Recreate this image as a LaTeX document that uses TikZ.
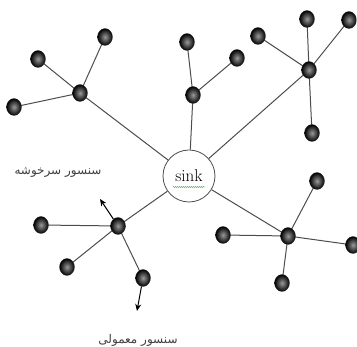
\documentclass[tikz,border=0pt]{standalone}
\usepackage{fontspec}
\newfontfamily\arabicfont[Script=Arabic]{DejaVu Sans}
\TeXXeTstate=1
\usetikzlibrary{shapes.geometric,arrows.meta,decorations.pathmorphing,backgrounds}
\begin{document}
\begin{tikzpicture}[x=1pt,y=-1pt,
  sensor/.style={ellipse,minimum width=15pt,minimum height=17pt,inner sep=0pt,
    shading=radial,inner color=gray!80,outer color=black,draw=black!80,line width=0.3pt},
  link/.style={draw=black!70,line width=1pt},
  arr/.style={draw=black,line width=1pt,-{Stealth[length=7pt,width=6pt]}},
  lab/.style={font=\arabicfont\fontsize{12}{14}\selectfont,text=black!75}]
\useasboundingbox (0,0) rectangle (357,347);
\node[circle,draw=black!70,line width=0.8pt,minimum size=52pt,inner sep=0pt,fill=white,
  font=\fontsize{17}{19}\selectfont] (sink) at (189,176) {sink};
\draw[green!60!black,line width=0.4pt,decorate,decoration={snake,amplitude=0.4pt,segment length=2pt}] (173,187) -- (205,187);
% top-left cluster
\node[sensor] (h1) at (80,93) {};
\node[sensor] (a1) at (105,37) {};
\node[sensor] (a2) at (38,59) {};
\node[sensor] (a3) at (14,107) {};
% top-middle cluster
\node[sensor] (h2) at (193,95) {};
\node[sensor] (b1) at (187,42) {};
\node[sensor] (b2) at (237,58) {};
% top-right cluster
\node[sensor] (h3) at (309,70) {};
\node[sensor] (c1) at (258,36) {};
\node[sensor] (c2) at (307,19) {};
\node[sensor] (c3) at (349,20) {};
\node[sensor] (c4) at (312,133) {};
% bottom-right cluster
\node[sensor] (h4) at (288,236) {};
\node[sensor] (d1) at (317,181) {};
\node[sensor] (d2) at (223,235) {};
\node[sensor] (d3) at (353,245) {};
\node[sensor] (d4) at (282,283) {};
% bottom-left cluster
\node[sensor] (h5) at (118,226) {};
\node[sensor] (e1) at (41,225) {};
\node[sensor] (e2) at (67,267) {};
\node[sensor] (e3) at (143,278) {};
\coordinate (t1) at (100,199);
\coordinate (t2) at (137,311);
\begin{pgfonlayer}{background}
\path[link] (h1.center) -- (sink) (h2.center) -- (sink) (h3.center) -- (sink) (h4.center) -- (sink) (h5.center) -- (sink);
\path[link] (h1.center) -- (a1.center) (h1.center) -- (a2.center) (h1.center) -- (a3.center);
\path[link] (h2.center) -- (b1.center) (h2.center) -- (b2.center);
\path[link] (h3.center) -- (c1.center) (h3.center) -- (c2.center) (h3.center) -- (c3.center) (h3.center) -- (c4.center);
\path[link] (h4.center) -- (d1.center) (h4.center) -- (d2.center) (h4.center) -- (d3.center) (h4.center) -- (d4.center);
\path[link] (h5.center) -- (e1.center) (h5.center) -- (e2.center) (h5.center) -- (e3.center);
\end{pgfonlayer}
\draw[arr] (h5) -- (t1);
\draw[arr] (e3) -- (t2);
\node[lab] (l1) at (58,172) {\beginR سنسور سرخوشه\endR};
\node[lab] (l2) at (138,340) {\beginR سنسور معمولی\endR};
\end{tikzpicture}
\end{document}
